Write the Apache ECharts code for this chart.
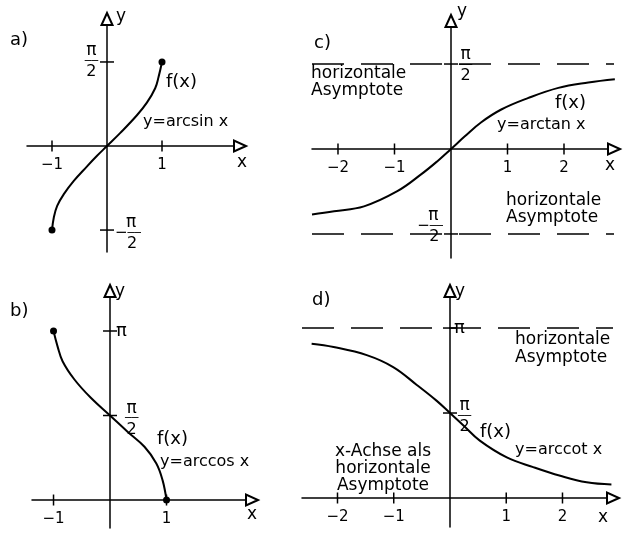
<!DOCTYPE html>
<html><head><meta charset="utf-8">
<script src="https://cdn.jsdelivr.net/npm/echarts@6/dist/echarts.min.js"></script>
<style>html,body{margin:0;padding:0;background:#fff}#c{width:634px;height:547px}</style>
</head><body><div id="c"></div>
<script>
const PI = Math.PI;
// a) y = arcsin x  (read from the sketch)
const arcsinX = [-1, -0.967, -0.906, -0.785, -0.604, -0.363, -0.181, 0, 0.242, 0.544, 0.725, 0.876, 0.937, 1];
const arcsinY = [-1.571, -1.335, -1.118, -0.90, -0.652, -0.38, -0.183, 0, 0.245, 0.575, 0.81, 1.08, 1.29, 1.571];
const arcsinEnds = [[-1, -1.571], [1, 1.571]];
// b) y = arccos x
const arccosX = [-1, -0.93, -0.84, -0.63, -0.34, 0, 0.31, 0.61, 0.82, 0.93, 1];
const arccosY = [3.14, 2.86, 2.58, 2.24, 1.90, 1.571, 1.27, 0.99, 0.68, 0.37, 0];
const arccosEnds = [[-1, 3.14], [1, 0]];
// c) y = arctan x
const arctanX = [-2.46, -2.07, -1.54, -0.95, -0.53, -0.24, 0, 0.24, 0.53, 0.89, 1.36, 1.90, 2.43, 2.90];
const arctanY = [-1.21, -1.15, -1.06, -0.78, -0.47, -0.225, 0, 0.23, 0.49, 0.73, 0.94, 1.13, 1.23, 1.29];
// d) y = arccot x
const arccotX = [-2.46, -2.07, -1.48, -1.01, -0.59, -0.24, 0, 0.24, 0.53, 1.01, 1.48, 1.96, 2.43, 2.87];
const arccotY = [2.85, 2.79, 2.64, 2.42, 2.09, 1.80, 1.571, 1.34, 1.06, 0.75, 0.57, 0.41, 0.29, 0.25];
// tick values
const xTicksA = [-1, 1], yTicksA = [PI / 2, -PI / 2];
const xTicksB = [-1, 1], yTicksB = [PI, PI / 2];
const xTicksC = [-2, -1, 1, 2], yTicksC = [PI / 2, -PI / 2];
const xTicksD = [-2, -1, 1, 2], yTicksD = [PI, PI / 2];
const asymC = [PI / 2, -PI / 2];
const asymD = [PI];

const FONT = 'DejaVu Sans';
const layouts = [
  {left: 27, top: 19, width: 213, height: 233, xMin: -1.4545, xMax: 2.418, yMin: -1.981, yMax: 2.374},
  {left: 32, top: 291, width: 220, height: 237, xMin: -1.381, xMax: 2.513, yMin: -0.520, yMax: 3.885},
  {left: 312, top: 21, width: 302, height: 237, xMin: -2.460, xMax: 2.885, yMin: -2.015, yMax: 2.366},
  {left: 302, top: 291, width: 311, height: 236, xMin: -2.631, xMax: 2.898, yMin: -0.536, yMax: 3.826}
];
const xTicks = [xTicksA, xTicksB, xTicksC, xTicksD];
const yTicks = [yTicksA, yTicksB, yTicksC, yTicksD];

const axisLine = {
  onZero: true, symbol: ['none', 'emptyTriangle'], symbolSize: [11, 12],
  lineStyle: {color: '#000', width: 1.5}
};
const fmtX = v => (v < 0 ? '\u2212' + (-v) : String(v));

const grids = layouts.map(l => ({left: l.left, top: l.top, width: l.width, height: l.height, containLabel: false}));
const xAxes = layouts.map((l, i) => ({
  type: 'value', gridIndex: i, min: l.xMin, max: l.xMax, splitLine: {show: false},
  axisLine: axisLine, axisTick: {show: false}, axisLabel: {show: false}
}));
const yAxes = layouts.map((l, i) => ({
  type: 'value', gridIndex: i, min: l.yMin, max: l.yMax, splitLine: {show: false},
  axisLine: axisLine, axisTick: {show: false}, axisLabel: {show: false}
}));

const zip = (xs, ys) => xs.map((x, k) => [x, ys[k]]);
const curve = (i, xs, ys, extra) => Object.assign({
  type: 'line', xAxisIndex: i, yAxisIndex: i, smooth: 0.4, showSymbol: false, silent: true,
  lineStyle: {color: '#000', width: 2}, data: zip(xs, ys), z: 5
}, extra || {});

const series = [];
series.push(curve(0, arcsinX, arcsinY));
series.push(curve(1, arccosX, arccosY));
series.push(curve(2, arctanX, arctanY, {
  markLine: {silent: true, symbol: 'none', label: {show: false},
    lineStyle: {color: '#000', width: 1.5, type: [32, 17]},
    data: asymC.map(v => ({yAxis: v}))}
}));
series.push(curve(3, arccotX, arccotY, {
  markLine: {silent: true, symbol: 'none', label: {show: false},
    lineStyle: {color: '#000', width: 1.5, type: [32, 17]},
    data: asymD.map(v => ({yAxis: v}))}
}));
const solid = {color: '#000', opacity: 1};
// endpoint dots
[[0, arcsinEnds], [1, arccosEnds]].forEach(([i, pts]) => series.push({
  type: 'scatter', xAxisIndex: i, yAxisIndex: i, symbolSize: 7, silent: true,
  itemStyle: solid, data: pts, z: 6
}));
// tick marks crossing the axes, with x tick labels below
layouts.forEach((l, i) => {
  series.push({type: 'scatter', xAxisIndex: i, yAxisIndex: i, symbol: 'rect', symbolSize: [1.5, 11],
    silent: true, itemStyle: solid, data: xTicks[i].map(v => [v, 0]),
    label: {show: true, position: 'bottom', distance: 6, formatter: p => fmtX(p.value[0]),
      color: '#000', opacity: 1, fontSize: 15, fontFamily: FONT}});
  series.push({type: 'scatter', xAxisIndex: i, yAxisIndex: i, symbol: 'rect', symbolSize: [14, 1.5],
    silent: true, itemStyle: solid, data: yTicks[i].map(v => [0, v])});
});
// y tick labels (fractions of pi)
const base = {fontFamily: FONT, color: '#000'};
const rich = {
  n: Object.assign({fontSize: 17, lineHeight: 14, align: 'center'}, base),
  b: Object.assign({fontSize: 11, lineHeight: 6, align: 'center'}, base),
  d: Object.assign({fontSize: 16, lineHeight: 16, align: 'center'}, base),
  n2: Object.assign({fontSize: 17, lineHeight: 14, align: 'left', padding: [0, 0, 0, 11]}, base),
  d2: Object.assign({fontSize: 16, lineHeight: 16, align: 'left', padding: [0, 0, 0, 12]}, base),
  m: Object.assign({fontSize: 15, lineHeight: 6, align: 'left'}, base),
  b2: Object.assign({fontSize: 11, lineHeight: 6, align: 'left'}, base),
  p: Object.assign({fontSize: 18}, base)
};
const TXT = {
  pi2: '{n|π}\n{b|──}\n{d|2}',
  mpi2: '{n2|π}\n{m|−}{b2|──}\n{d2|2}',
  pi: '{p|π}'
};
function kindOf(v) { return Math.abs(v - PI) < 1e-6 ? 'pi' : (v > 0 ? 'pi2' : 'mpi2'); }
// label placement per panel: [position, distance, dy]
const yLabelPlace = [
  [['left', 9, 0], ['right', 8, 4]],
  [['right', 6, 0], ['right', 15, 4]],
  [['right', 8, 2], ['left', 8, -7]],
  [['right', 4, 0], ['right', 8, 4]]
];
layouts.forEach((l, i) => {
  series.push({
    type: 'scatter', xAxisIndex: i, yAxisIndex: i, symbolSize: 0, silent: true,
    itemStyle: solid,
    data: yTicks[i].map((v, k) => ({
      value: [0, v], txt: TXT[kindOf(v)],
      label: {position: yLabelPlace[i][k][0], distance: yLabelPlace[i][k][1], offset: [0, yLabelPlace[i][k][2]]}
    })),
    label: {show: true, formatter: p => p.data.txt, rich: rich, color: '#000', opacity: 1}
  });
});

function t(x, y, text, size, align) {
  return {type: 'text', x: x, y: y, silent: true,
    style: {text: text, fill: '#000', fontSize: size, fontFamily: FONT, align: align || 'left', verticalAlign: 'middle'}};
}
const graphic = [
  // panel a
  t(10, 40, 'a)', 18), t(166, 82, 'f(x)', 18), t(143, 122, 'y=arcsin x', 16),
  t(121, 17, 'y', 17, 'center'), t(242, 163, 'x', 17, 'center'),
  // panel b
  t(10, 311, 'b)', 18), t(157, 439, 'f(x)', 18), t(160, 462, 'y=arccos x', 16),
  t(120, 292, 'y', 17, 'center'), t(252, 515, 'x', 17, 'center'),
  // panel c
  t(314, 43, 'c)', 18), t(311, 74, 'horizontale', 17), t(311, 91, 'Asymptote', 17),
  t(555, 103, 'f(x)', 18), t(497, 125, 'y=arctan x', 16),
  t(506, 201, 'horizontale', 17), t(506, 218, 'Asymptote', 17),
  t(462, 12, 'y', 17, 'center'), t(610, 166, 'x', 17, 'center'),
  // panel d
  t(312, 300, 'd)', 18), t(515, 340, 'horizontale', 17), t(515, 358, 'Asymptote', 17),
  t(480, 432, 'f(x)', 18), t(515, 450, 'y=arccot x', 16),
  t(383, 452, 'x-Achse als', 17, 'center'), t(383, 469, 'horizontale', 17, 'center'), t(383, 486, 'Asymptote', 17, 'center'),
  t(460, 292, 'y', 17, 'center'), t(603, 518, 'x', 17, 'center')
];

const chart = echarts.init(document.getElementById('c'), null, {renderer: 'canvas'});
chart.setOption({
  backgroundColor: '#fff', animation: false,
  grid: grids, xAxis: xAxes, yAxis: yAxes, series: series, graphic: graphic
});
</script>
</body></html>
